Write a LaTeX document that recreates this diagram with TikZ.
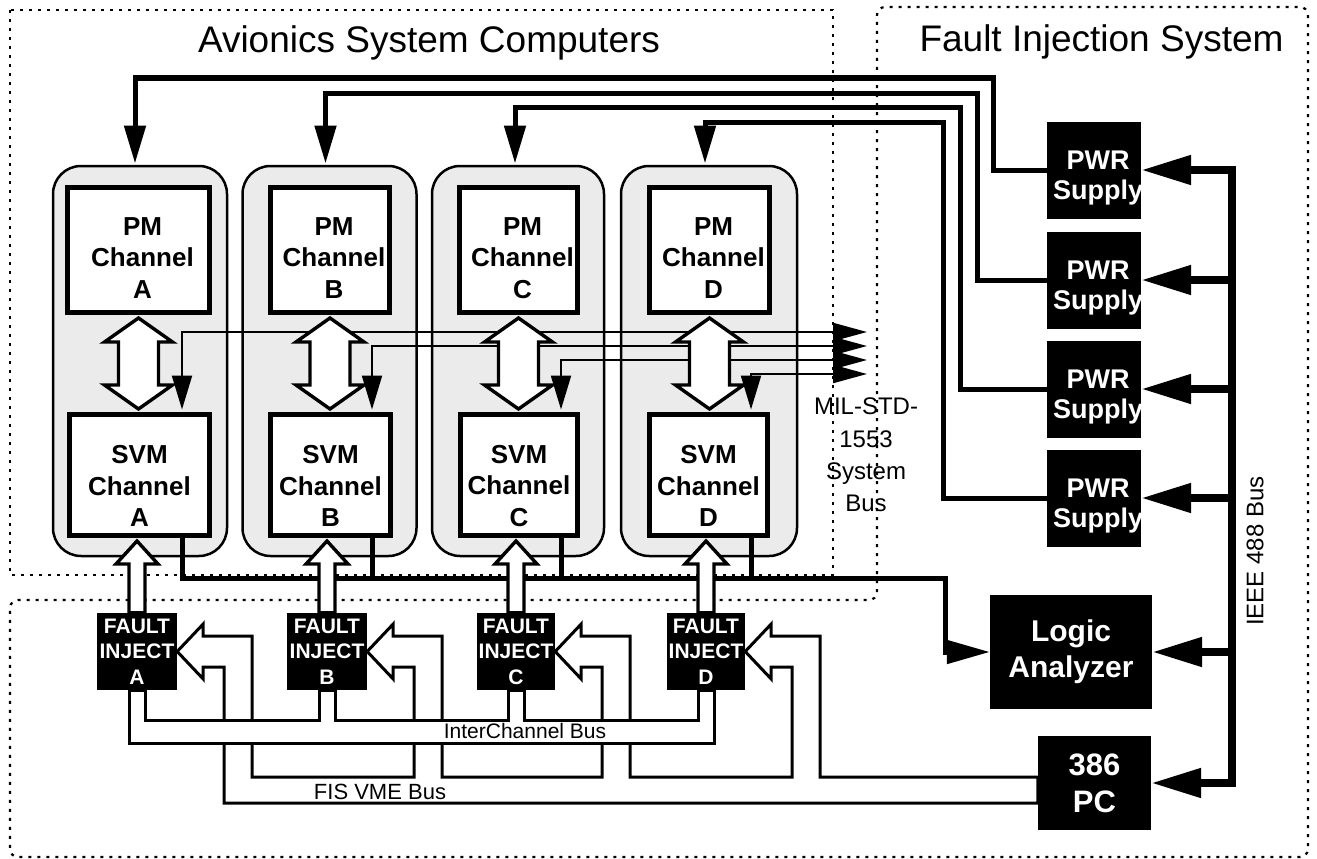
\documentclass[tikz,border=0pt]{standalone}
\usepackage{fontspec}
\setmainfont{Liberation Sans}
\usetikzlibrary{arrows.meta,calc}
\pgfdeclarelayer{frames}
\pgfdeclarelayer{wires}
\pgfdeclarelayer{hollows}
\pgfsetlayers{frames,wires,hollows,main}
\newcommand\fsz[2]{\fontsize{#1}{#2}\selectfont}

\begin{document}
\begin{tikzpicture}[x=1pt,y=-1pt,
  zone/.style={draw, line width=2.2pt, dash pattern=on 3pt off 6pt},
  chassis/.style={draw, line width=2.5pt, rounded corners=28pt, fill=black!8, inner sep=0pt},
  cardbox/.style={draw, line width=5pt, fill=white, inner sep=0pt},
  cardtext/.style={align=center, inner sep=0pt, font=\bfseries\fsz{26}{31.5}},
  blackbox/.style={fill=black, text=white, align=center, inner sep=0pt},
  whitetext/.style={text=white, align=center, inner sep=0pt},
  pwrline/.style={line width=5pt, -{Triangle[length=38pt,width=21pt]}},
  m1553/.style={line width=2.2pt, {Triangle[length=34pt,width=18pt]}-{Triangle[length=34pt,width=20pt]}},
  svmbus/.style={line width=5pt},
  ieeebus/.style={line width=8pt},
  busline/.style={draw, line width=3pt, fill=white, line join=miter},
  hollowarrow/.style={draw, line width=3.4pt, fill=white, line join=miter},
  caption/.style={inner sep=0pt}
]
\useasboundingbox (0,0) rectangle (1317,859);

% ---------- region frames and channel chassis ----------
\begin{pgfonlayer}{frames}
  \draw[zone] (10,10) rectangle (833,575);
  \draw[zone, rounded corners=8pt] (877,600) -- (877,7) -- (1308,7) -- (1308,857)
        -- (10,857) -- (10,600) -- cycle;
  \node[chassis, minimum width=174, minimum height=390] (chA) at (140,361) {};
  \node[chassis, minimum width=174, minimum height=390] (chB) at (329.5,361) {};
  \node[chassis, minimum width=172, minimum height=390] (chC) at (518,361) {};
  \node[chassis, minimum width=176, minimum height=390] (chD) at (709,361) {};
\end{pgfonlayer}

% ---------- titles ----------
\node[anchor=base, caption, font=\fsz{37}{44}] (avtitle) at (429,53) {Avionics System Computers};
\node[anchor=base, caption, font=\fsz{37}{44}] (fistitle) at (1101.5,52) {Fault Injection System};

% ---------- processor and voter modules ----------
\node[cardbox, minimum width=142, minimum height=125] (pmA) at (138.5,250) {};
\node[cardbox, minimum width=119, minimum height=125] (pmB) at (330,250) {};
\node[cardbox, minimum width=118, minimum height=125] (pmC) at (518.5,250) {};
\node[cardbox, minimum width=120, minimum height=125] (pmD) at (709.5,250) {};
\node[cardbox, minimum width=140, minimum height=121] (svmA) at (139.5,475) {};
\node[cardbox, minimum width=120, minimum height=121] (svmB) at (330.5,475) {};
\node[cardbox, minimum width=117, minimum height=121] (svmC) at (519,475) {};
\node[cardbox, minimum width=118, minimum height=121] (svmD) at (708.5,475) {};
\foreach \col in {A,B,C,D}{
  \node[cardtext] (pmtext\col) at ($(pm\col.center)+(4,8)$) {PM\\Channel\\\col};
  \node[cardtext] (svmtext\col) at ($(svm\col.center)+(0,11)$) {SVM\\Channel\\\col};
}

% ---------- fault injectors ----------
\node[blackbox, minimum width=80, minimum height=77, font=\bfseries\fsz{21}{25.5}] (fiA) at (137,651.5) {FAULT\\INJECT\\A};
\node[blackbox, minimum width=80, minimum height=77, font=\bfseries\fsz{21}{25.5}] (fiB) at (327,651.5) {FAULT\\INJECT\\B};
\node[blackbox, minimum width=78, minimum height=77, font=\bfseries\fsz{21}{25.5}] (fiC) at (516,651.5) {FAULT\\INJECT\\C};
\node[blackbox, minimum width=78, minimum height=77, font=\bfseries\fsz{21}{25.5}] (fiD) at (706,651.5) {FAULT\\INJECT\\D};

% ---------- power supplies, analyzer, PC ----------
\foreach \k/\y in {1/170,2/280,3/389,4/498}{
  \node[blackbox, minimum width=94, minimum height=97] (pwr\k) at (1094,\y) {};
  \node[whitetext, font=\bfseries\fsz{27}{30}] (pwrtext\k) at ($(pwr\k.center)+(4,8)$) {PWR\\Supply};
}
\node[blackbox, minimum width=162, minimum height=114, font=\bfseries\fsz{30}{36}] (la) at (1071,652) {Logic\\Analyzer};
\node[blackbox, minimum width=113, minimum height=94, font=\bfseries\fsz{31}{37}] (pc) at (1094.5,783) {386\\PC};

% ---------- bus captions ----------
\node[caption, align=center, font=\fsz{24}{32.3}] (milbus) at (866,455) {MIL-STD-\\1553\\System\\Bus};
\node[caption, rotate=90, font=\fsz{24}{28}] (ieeelabel) at (1255,551) {IEEE 488 Bus};
\node[caption, font=\fsz{21}{25}] (iclabel) at (525,731) {InterChannel Bus};
\node[caption, font=\fsz{22}{26}] (vmelabel) at (380,792) {FIS VME Bus};

% ---------- wiring ----------
\begin{pgfonlayer}{wires}
  \foreach \col in {A,B,C,D}{
    \coordinate (bx\col) at ($(fi\col.center)+(45,0)$);
  }
  % power feeds
  \coordinate (rail1) at (993,78);
  \coordinate (rail2) at (977,93);
  \coordinate (rail3) at (960,107);
  \coordinate (rail4) at (943,122);
  \draw[pwrline] (pwr1.west) -| (rail1) -| ($(chA.north)+(-5,-1.25)$);
  \draw[pwrline] (pwr2.west) -| (rail2) -| ($(chB.north)+(-4,-1.25)$);
  \draw[pwrline] (pwr3.west) -| (rail3) -| ($(chC.north)+(-3,-1.25)$);
  \draw[pwrline] (pwr4.west) -| (rail4) -| ($(chD.north)+(-4,-1.25)$);

  % MIL-STD-1553 system bus
  \coordinate (mA) at (867,332);
  \coordinate (mB) at (867,346);
  \coordinate (mC) at (867,360);
  \coordinate (mD) at (867,374);
  \foreach \col in {A,B,C,D}{
    \draw[m1553] (m\col) -| ($(bx\col |- svm\col.north)+(0,-2.5)$);
  }

  % SVM outputs to the logic analyzer
  \coordinate (laTurn) at (945,578);
  \draw[svmbus, -{Triangle[length=43pt,width=23pt]}] (bxA |- svmA.south) -- (bxA |- laTurn) -- (laTurn) |- (la.west);
  \foreach \col in {B,C,D}{
    \draw[svmbus] (bx\col |- svm\col.south) -- (bx\col |- laTurn);
  }

  % IEEE 488 bus
  \coordinate (ieee) at (1232,0);
  \draw[ieeebus, line cap=rect] (ieee |- pwr1.east) -- (ieee |- pc.east);
  \foreach \b in {pwr1,pwr2,pwr3,pwr4,la,pc}{
    \draw[ieeebus, -{Triangle[length=50pt,width=28pt]}] (ieee |- \b.east) -- (\b.east);
  }

  % FIS VME bus with its hollow feeds into the injectors
  \coordinate (vT) at (0,777);
  \coordinate (vB) at (0,803);
  \foreach \col in {A,B,C,D}{
    \coordinate (hu\col) at ($(fi\col.east)+(26,-27.5)$);
    \coordinate (su\col) at ($(fi\col.east)+(26,-15.5)$);
    \coordinate (sl\col) at ($(fi\col.east)+(26,15.5)$);
    \coordinate (hl\col) at ($(fi\col.east)+(26,27.5)$);
    \coordinate (ou\col) at ($(fi\col.east)+(75,-15.5)$);
    \coordinate (in\col) at ($(fi\col.east)+(47,15.5)$);
    \coordinate (stubL\col) at ($(fi\col.south)+(-8,0)$);
    \coordinate (stubR\col) at ($(fi\col.south)+(8,0)$);
  }
  \draw[busline] (fiA.east) -- (huA) -- (suA) -- (ouA) -- (ouA |- vT) -- (inB |- vT) -- (inB)
     -- (slB) -- (hlB) -- (fiB.east) -- (huB) -- (suB) -- (ouB) -- (ouB |- vT) -- (inC |- vT) -- (inC)
     -- (slC) -- (hlC) -- (fiC.east) -- (huC) -- (suC) -- (ouC) -- (ouC |- vT) -- (inD |- vT) -- (inD)
     -- (slD) -- (hlD) -- (fiD.east) -- (huD) -- (suD) -- (ouD) -- (ouD |- vT) -- (pc.west |- vT)
     -- (pc.west |- vB) -- (inA |- vB) -- (inA) -- (slA) -- (hlA) -- cycle;

  % InterChannel bus
  \coordinate (iT) at (0,720);
  \coordinate (iB) at (0,743);
  \draw[busline] (stubLA) -- (stubLA |- iB) -- (stubRD |- iB) -- (stubRD) -- (stubLD) -- (stubLD |- iT)
     -- (stubRC |- iT) -- (stubRC) -- (stubLC) -- (stubLC |- iT) -- (stubRB |- iT) -- (stubRB)
     -- (stubLB) -- (stubLB |- iT) -- (stubRA |- iT) -- (stubRA) -- cycle;
\end{pgfonlayer}

% ---------- hollow data paths ----------
\begin{pgfonlayer}{hollows}
  \foreach \col in {A,B,C,D}{
    \coordinate (ht\col) at ($(pm\col.south)+(0,3)$);
    \coordinate (hb\col) at ($(pm\col.south |- svm\col.north)+(0,-3)$);
    \draw[hollowarrow] (ht\col) -- ++(34,24) -- ++(-14,0) -- ($(hb\col)+(20,-24)$) -- ++(14,0) -- (hb\col)
       -- ++(-34,-24) -- ++(14,0) -- ($(ht\col)+(-20,24)$) -- ++(-14,0) -- cycle;
    \coordinate (ut\col) at ($(fi\col.north |- svm\col.south)+(0,3)$);
    \draw[hollowarrow] (ut\col) -- ++(21,23) -- ++(-13,0) -- ($(fi\col.north)+(8,0)$)
       -- ($(fi\col.north)+(-8,0)$) -- ($(ut\col)+(-8,23)$) -- ++(-13,0) -- cycle;
  }
\end{pgfonlayer}
\end{tikzpicture}
\end{document}
